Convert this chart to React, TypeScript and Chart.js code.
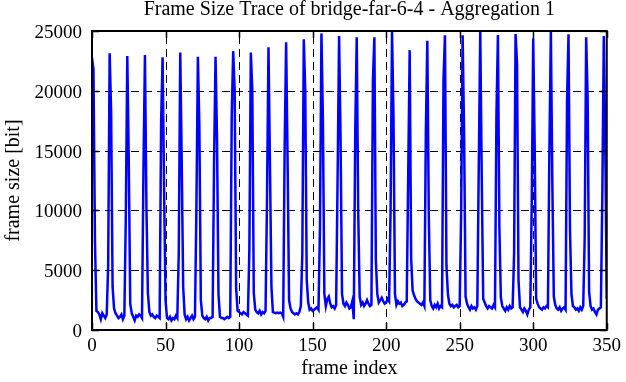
import React, { useEffect, useRef } from "react";
import { Chart, registerables } from "chart.js";

Chart.register(...registerables);

const TITLE = "Frame Size Trace of bridge-far-6-4 - Aggregation 1";
const X_LABEL = "frame index";
const Y_LABEL = "frame size [bit]";
const X_TICKS = [0, 50, 100, 150, 200, 250, 300, 350];
const Y_TICKS = [0, 5000, 10000, 15000, 20000, 25000];
const X_MIN = 0;
const X_MAX = 350;
const Y_MIN = 0;
const Y_MAX = 25000;

// frame sizes in bit, one line per 12-frame group (frame 0, 12, 24, ...)
const frameSizes = [
  22770, 21800, 7500, 1600, 1500, 1300, 900, 1400, 1200, 1000, 1300, 5400,
  23130, 18250, 3600, 1800, 1400, 1200, 1000, 1100, 1300, 900, 1200, 9600,
  22900, 14100, 2200, 1400, 1100, 800, 1200, 1100, 1300, 1200, 1000, 13500,
  23000, 10400, 3100, 1500, 1200, 1300, 1100, 1000, 1200, 1100, 1000, 17400,
  22800, 12000, 2500, 1000, 900, 1100, 800, 1000, 900, 1200, 1000, 6500,
  23200, 14100, 3600, 1300, 900, 1100, 800, 1000, 1200, 900, 1100, 10200,
  22850, 17000, 2500, 1200, 1000, 900, 1100, 800, 1000, 1000, 1100, 14000,
  22850, 16000, 3000, 1100, 1000, 1000, 900, 1000, 1100, 1000, 1100, 17800,
  23320, 20000, 3500, 1600, 1500, 1400, 1300, 1500, 1400, 1300, 1200, 6700,
  23200, 20000, 3100, 1700, 1500, 1400, 1600, 1300, 1500, 1400, 1600, 11000,
  23630, 13800, 3600, 1500, 1450, 1400, 1450, 1400, 1450, 1400, 1100, 15300,
  24050, 14000, 2500, 1800, 1500, 1400, 1300, 1400, 1300, 1500, 2000, 6300,
  24300, 20000, 4200, 2300, 1700, 1800, 1600, 1700, 1800, 1900, 1700, 8500,
  24800, 17600, 3000, 2000, 2600, 2800, 2200, 1900, 2000, 1800, 2100, 12800,
  24580, 16000, 3000, 2200, 2000, 2300, 2100, 1800, 1900, 2400, 900, 16700,
  24470, 10000, 2800, 2100, 2300, 2000, 2200, 2500, 2200, 2000, 2100, 20900,
  24470, 5850, 3000, 2300, 2500, 2700, 2400, 2200, 2300, 2600, 2400, 9800,
  24940, 17800, 3000, 2100, 2400, 2200, 2300, 2000, 2100, 2300, 2400, 13000,
  23400, 6000, 3300, 2900, 2600, 2400, 2300, 2200, 2100, 2300, 2000, 16600,
  24190, 9500, 2500, 2000, 1800, 2100, 1900, 2200, 1800, 2000, 1900, 21000,
  24640, 5400, 3000, 2200, 2000, 2100, 1900, 2000, 2100, 1900, 2000, 9800,
  24640, 16500, 2800, 2200, 1900, 1700, 2000, 1800, 1900, 1700, 2000, 14000,
  24940, 12700, 2600, 2300, 2000, 1800, 2000, 1900, 1800, 2100, 1900, 18000,
  24660, 8500, 2700, 2000, 1800, 1600, 1900, 1700, 2000, 1800, 1900, 6400,
  24750, 22300, 4200, 1900, 1700, 1500, 1800, 1600, 1300, 1700, 1900, 10600,
  24390, 15300, 2600, 2200, 1900, 1800, 1700, 1900, 1800, 2000, 1900, 15000,
  24940, 12300, 2800, 2100, 1800, 1700, 1900, 1600, 1800, 1900, 1700, 19100,
  24720, 8400, 3000, 2000, 1900, 1700, 1800, 1600, 1900, 1700, 2000, 7700,
  24470, 19400, 3200, 2000, 1700, 1800, 1500, 1300, 1700, 1800, 1900, 11300,
  24580, 15470, 2600,
];

const FONT = '"Liberation Serif", "Times New Roman", Times, serif';
const LINE_COLOR = "#0000ff";

const gnuplotFrame = {
  id: "gnuplotFrame",
  beforeDatasetsDraw(chart: any) {
    const { ctx, chartArea: a, scales } = chart;
    const xs = scales.x;
    const ys = scales.y;
    ctx.save();
    ctx.strokeStyle = "#000";
    ctx.lineWidth = 1;
    ctx.setLineDash([8, 5]);
    for (const v of X_TICKS) {
      if (v === X_MIN || v === X_MAX) continue;
      const px = Math.round(xs.getPixelForValue(v)) + 0.5;
      ctx.beginPath();
      ctx.moveTo(px, a.bottom);
      ctx.lineTo(px, a.top);
      ctx.stroke();
    }
    for (const v of Y_TICKS) {
      if (v === Y_MIN || v === Y_MAX) continue;
      const py = Math.round(ys.getPixelForValue(v)) + 0.5;
      ctx.beginPath();
      ctx.moveTo(a.left, py);
      ctx.lineTo(a.right, py);
      ctx.stroke();
    }
    ctx.restore();
  },
  afterDatasetsDraw(chart: any) {
    const { ctx, chartArea: a, scales } = chart;
    const xs = scales.x;
    const ys = scales.y;
    const tl = 7;
    ctx.save();
    ctx.strokeStyle = "#000";
    ctx.setLineDash([]);
    ctx.lineWidth = 1.5;
    for (const v of X_TICKS) {
      const px = Math.round(xs.getPixelForValue(v)) + 0.5;
      ctx.beginPath();
      ctx.moveTo(px, a.bottom);
      ctx.lineTo(px, a.bottom - tl);
      ctx.moveTo(px, a.top);
      ctx.lineTo(px, a.top + tl);
      ctx.stroke();
    }
    for (const v of Y_TICKS) {
      const py = Math.round(ys.getPixelForValue(v)) + 0.5;
      ctx.beginPath();
      ctx.moveTo(a.left, py);
      ctx.lineTo(a.left + tl, py);
      ctx.moveTo(a.right, py);
      ctx.lineTo(a.right - tl, py);
      ctx.stroke();
    }
    ctx.lineWidth = 2;
    ctx.strokeRect(a.left, a.top, a.right - a.left, a.bottom - a.top);
    ctx.restore();
  },
  afterDraw(chart: any) {
    const { ctx, chartArea: a } = chart;
    ctx.save();
    ctx.fillStyle = "#000";
    ctx.font = `20px ${FONT}`;
    ctx.textAlign = "center";
    ctx.textBaseline = "middle";
    ctx.fillText(TITLE, (a.left + a.right) / 2, 10);
    ctx.restore();
  },
};

export default function App() {
  const ref = useRef<HTMLCanvasElement>(null);

  useEffect(() => {
    if (!ref.current) return;
    const tickFont = { family: FONT, size: 19, weight: "normal" as const };
    const titleFont = { family: FONT, size: 20, weight: "normal" as const };
    const chart = new Chart(ref.current, {
      type: "line",
      data: {
        datasets: [
          {
            data: frameSizes.map((v, i) => ({ x: i, y: v })),
            borderColor: LINE_COLOR,
            backgroundColor: LINE_COLOR,
            borderWidth: 2.5,
            pointRadius: 0,
            fill: false,
            tension: 0,
          },
        ],
      },
      options: {
        responsive: false,
        maintainAspectRatio: false,
        animation: false,
        events: [],
        layout: { padding: { left: 0, right: 16, top: 31, bottom: 0 } },
        plugins: {
          legend: { display: false },
          tooltip: { enabled: false },
          title: { display: false },
        },
        scales: {
          x: {
            type: "linear",
            min: X_MIN,
            max: X_MAX,
            afterBuildTicks: (s: any) => {
              s.ticks = X_TICKS.map((v) => ({ value: v }));
            },
            afterFit: (s: any) => {
              s.height = 52;
            },
            ticks: {
              color: "#000",
              font: tickFont,
              padding: 5,
              maxRotation: 0,
              autoSkip: false,
              callback: (v: any) => String(v),
            },
            grid: { display: false, drawTicks: false },
            border: { display: false },
            title: {
              display: true,
              text: X_LABEL,
              color: "#000",
              font: titleFont,
              padding: { top: 0, bottom: 1 },
            },
          },
          y: {
            type: "linear",
            min: Y_MIN,
            max: Y_MAX,
            afterBuildTicks: (s: any) => {
              s.ticks = Y_TICKS.map((v) => ({ value: v }));
            },
            afterFit: (s: any) => {
              s.width = 92;
            },
            ticks: {
              color: "#000",
              font: tickFont,
              padding: 10,
              labelOffset: 2,
              autoSkip: false,
              callback: (v: any) => String(v),
            },
            grid: { display: false, drawTicks: false },
            border: { display: false },
            title: {
              display: true,
              text: Y_LABEL,
              color: "#000",
              font: titleFont,
              padding: { top: 2, bottom: 0 },
            },
          },
        },
      },
      plugins: [gnuplotFrame],
    });
    return () => chart.destroy();
  }, []);

  return (
    <div
      style={{
        position: "fixed",
        left: 0,
        top: 0,
        width: 626,
        height: 382,
        background: "#fff",
      }}
    >
      <canvas ref={ref} width={626} height={382} style={{ display: "block" }} />
    </div>
  );
}
